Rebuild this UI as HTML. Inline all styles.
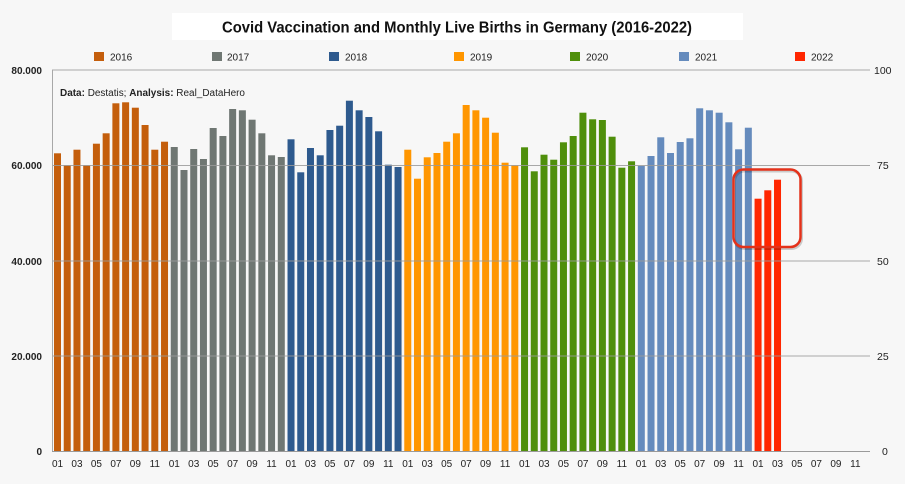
<!DOCTYPE html>
<html><head><meta charset="utf-8"><style>
html,body{margin:0;padding:0;background:#f7f7f7;}
svg{display:block;font-family:"Liberation Sans",Arial,sans-serif;}
</style></head><body>
<svg width="905" height="484" viewBox="0 0 905 484" xmlns="http://www.w3.org/2000/svg">
<rect x="0" y="0" width="905" height="484" fill="#f7f7f7"/>
<rect x="172" y="13" width="571" height="27" fill="#ffffff"/>
<text x="222" y="32.5" font-size="16" font-weight="bold" fill="#111" textLength="470" lengthAdjust="spacingAndGlyphs">Covid Vaccination and Monthly Live Births in Germany (2016-2022)</text>

<g font-size="10" fill="#222">
<rect x="94" y="52" width="10" height="9" fill="#c45e0c"/><text x="110" y="60.5">2016</text>
<rect x="212" y="52" width="10" height="9" fill="#6f7773"/><text x="227" y="60.5">2017</text>
<rect x="329" y="52" width="10" height="9" fill="#2e5a8e"/><text x="345" y="60.5">2018</text>
<rect x="454" y="52" width="10" height="9" fill="#ff9600"/><text x="470" y="60.5">2019</text>
<rect x="570" y="52" width="10" height="9" fill="#4f8f0b"/><text x="586" y="60.5">2020</text>
<rect x="679" y="52" width="10" height="9" fill="#658bbd"/><text x="695" y="60.5">2021</text>
<rect x="795" y="52" width="10" height="9" fill="#ff2600"/><text x="811" y="60.5">2022</text>
</g>

<g font-size="10" font-weight="bold" fill="#222" text-anchor="end">
<text x="42" y="74">80.000</text>
<text x="42" y="169">60.000</text>
<text x="42" y="265">40.000</text>
<text x="42" y="360">20.000</text>
<text x="42" y="455">0</text>
</g>
<g font-size="10.5" fill="#222">
<text x="874" y="74">100</text>
<text x="877" y="169">75</text>
<text x="877" y="265">50</text>
<text x="877" y="360">25</text>
<text x="882" y="455">0</text>
</g>

<text x="60" y="96" font-size="10" fill="#222" textLength="185" lengthAdjust="spacingAndGlyphs"><tspan font-weight="bold">Data:</tspan> Destatis; <tspan font-weight="bold">Analysis:</tspan> Real_DataHero</text>

<g fill="#c45e0c">
<rect x="54" y="153.3" width="7" height="297.7"/>
<rect x="63.73" y="165.3" width="7" height="285.7"/>
<rect x="73.46" y="149.7" width="7" height="301.3"/>
<rect x="83.19" y="165.3" width="7" height="285.7"/>
<rect x="92.92" y="143.7" width="7" height="307.3"/>
<rect x="102.65" y="133.3" width="7" height="317.7"/>
<rect x="112.38" y="103.3" width="7" height="347.7"/>
<rect x="122.11" y="102.3" width="7" height="348.7"/>
<rect x="131.84" y="107.7" width="7" height="343.3"/>
<rect x="141.57" y="125" width="7" height="326"/>
<rect x="151.3" y="149.7" width="7" height="301.3"/>
<rect x="161.03" y="141.7" width="7" height="309.3"/>
</g>
<g fill="#6f7773">
<rect x="170.76" y="147" width="7" height="304"/>
<rect x="180.49" y="170" width="7" height="281"/>
<rect x="190.22" y="149" width="7" height="302"/>
<rect x="199.95" y="159" width="7" height="292"/>
<rect x="209.68" y="128" width="7" height="323"/>
<rect x="219.41" y="136" width="7" height="315"/>
<rect x="229.14" y="109" width="7" height="342"/>
<rect x="238.87" y="110.3" width="7" height="340.7"/>
<rect x="248.6" y="119.7" width="7" height="331.3"/>
<rect x="258.33" y="133.3" width="7" height="317.7"/>
<rect x="268.06" y="155.3" width="7" height="295.7"/>
<rect x="277.79" y="157" width="7" height="294"/>
</g>
<g fill="#2e5a8e">
<rect x="287.52" y="139.3" width="7" height="311.7"/>
<rect x="297.25" y="172.3" width="7" height="278.7"/>
<rect x="306.98" y="148" width="7" height="303"/>
<rect x="316.71" y="155.3" width="7" height="295.7"/>
<rect x="326.44" y="130" width="7" height="321"/>
<rect x="336.17" y="125.7" width="7" height="325.3"/>
<rect x="345.9" y="100.7" width="7" height="350.3"/>
<rect x="355.63" y="110.3" width="7" height="340.7"/>
<rect x="365.36" y="117" width="7" height="334"/>
<rect x="375.09" y="131.3" width="7" height="319.7"/>
<rect x="384.82" y="164.7" width="7" height="286.3"/>
<rect x="394.55" y="167" width="7" height="284"/>
</g>
<g fill="#ff9600">
<rect x="404.28" y="149.7" width="7" height="301.3"/>
<rect x="414.01" y="178.7" width="7" height="272.3"/>
<rect x="423.74" y="157.3" width="7" height="293.7"/>
<rect x="433.47" y="153" width="7" height="298"/>
<rect x="443.2" y="141.7" width="7" height="309.3"/>
<rect x="452.93" y="133.3" width="7" height="317.7"/>
<rect x="462.66" y="105" width="7" height="346"/>
<rect x="472.39" y="110.3" width="7" height="340.7"/>
<rect x="482.12" y="117.7" width="7" height="333.3"/>
<rect x="491.85" y="132.7" width="7" height="318.3"/>
<rect x="501.58" y="162.7" width="7" height="288.3"/>
<rect x="511.31" y="165.3" width="7" height="285.7"/>
</g>
<g fill="#4f8f0b">
<rect x="521.04" y="147.3" width="7" height="303.7"/>
<rect x="530.77" y="171.3" width="7" height="279.7"/>
<rect x="540.5" y="154.7" width="7" height="296.3"/>
<rect x="550.23" y="159.7" width="7" height="291.3"/>
<rect x="559.96" y="142.3" width="7" height="308.7"/>
<rect x="569.69" y="136" width="7" height="315"/>
<rect x="579.42" y="112.7" width="7" height="338.3"/>
<rect x="589.15" y="119.3" width="7" height="331.7"/>
<rect x="598.88" y="120" width="7" height="331"/>
<rect x="608.61" y="136.7" width="7" height="314.3"/>
<rect x="618.34" y="167.7" width="7" height="283.3"/>
<rect x="628.07" y="161.3" width="7" height="289.7"/>
</g>
<g fill="#658bbd">
<rect x="637.8" y="166" width="7" height="285"/>
<rect x="647.53" y="156" width="7" height="295"/>
<rect x="657.26" y="137.3" width="7" height="313.7"/>
<rect x="666.99" y="153" width="7" height="298"/>
<rect x="676.72" y="142" width="7" height="309"/>
<rect x="686.45" y="138.3" width="7" height="312.7"/>
<rect x="696.18" y="108.3" width="7" height="342.7"/>
<rect x="705.91" y="110.3" width="7" height="340.7"/>
<rect x="715.64" y="112.7" width="7" height="338.3"/>
<rect x="725.37" y="122.3" width="7" height="328.7"/>
<rect x="735.1" y="149.3" width="7" height="301.7"/>
<rect x="744.83" y="127.7" width="7" height="323.3"/>
</g>
<g fill="#ff2600">
<rect x="754.56" y="198.7" width="7" height="252.3"/>
<rect x="764.29" y="190.3" width="7" height="260.7"/>
<rect x="774.02" y="179.7" width="7" height="271.3"/>
</g>

<g stroke="#9a9a9a" stroke-width="1" stroke-opacity="0.85">
<line x1="52" y1="70" x2="870" y2="70"/>
<line x1="52" y1="165.5" x2="870" y2="165.5"/>
<line x1="52" y1="261" x2="870" y2="261"/>
<line x1="52" y1="356" x2="870" y2="356"/>
</g>
<line x1="52.5" y1="70" x2="52.5" y2="451" stroke="#a8a8a8" stroke-width="1"/>
<line x1="52" y1="451.5" x2="870" y2="451.5" stroke="#9a9a9a" stroke-width="1"/>

<rect x="734.5" y="171" width="67" height="77.5" rx="10" ry="10" fill="none" stroke="rgba(0,0,0,0.18)" stroke-width="3"/>
<rect x="733.5" y="169.5" width="67" height="77.5" rx="10" ry="10" fill="none" stroke="#e4321b" stroke-width="2.5"/>

<g font-size="10" fill="#222" text-anchor="middle">
<text x="57.5" y="467">01</text><text x="76.96" y="467">03</text><text x="96.42" y="467">05</text><text x="115.88" y="467">07</text><text x="135.34" y="467">09</text><text x="154.8" y="467">11</text>
<text x="174.26" y="467">01</text><text x="193.72" y="467">03</text><text x="213.18" y="467">05</text><text x="232.64" y="467">07</text><text x="252.1" y="467">09</text><text x="271.56" y="467">11</text>
<text x="291.02" y="467">01</text><text x="310.48" y="467">03</text><text x="329.94" y="467">05</text><text x="349.4" y="467">07</text><text x="368.86" y="467">09</text><text x="388.32" y="467">11</text>
<text x="407.78" y="467">01</text><text x="427.24" y="467">03</text><text x="446.7" y="467">05</text><text x="466.16" y="467">07</text><text x="485.62" y="467">09</text><text x="505.08" y="467">11</text>
<text x="524.54" y="467">01</text><text x="544" y="467">03</text><text x="563.46" y="467">05</text><text x="582.92" y="467">07</text><text x="602.38" y="467">09</text><text x="621.84" y="467">11</text>
<text x="641.3" y="467">01</text><text x="660.76" y="467">03</text><text x="680.22" y="467">05</text><text x="699.68" y="467">07</text><text x="719.14" y="467">09</text><text x="738.6" y="467">11</text>
<text x="758.06" y="467">01</text><text x="777.52" y="467">03</text><text x="796.98" y="467">05</text><text x="816.44" y="467">07</text><text x="835.9" y="467">09</text><text x="855.36" y="467">11</text>
</g>
</svg>
</body></html>
